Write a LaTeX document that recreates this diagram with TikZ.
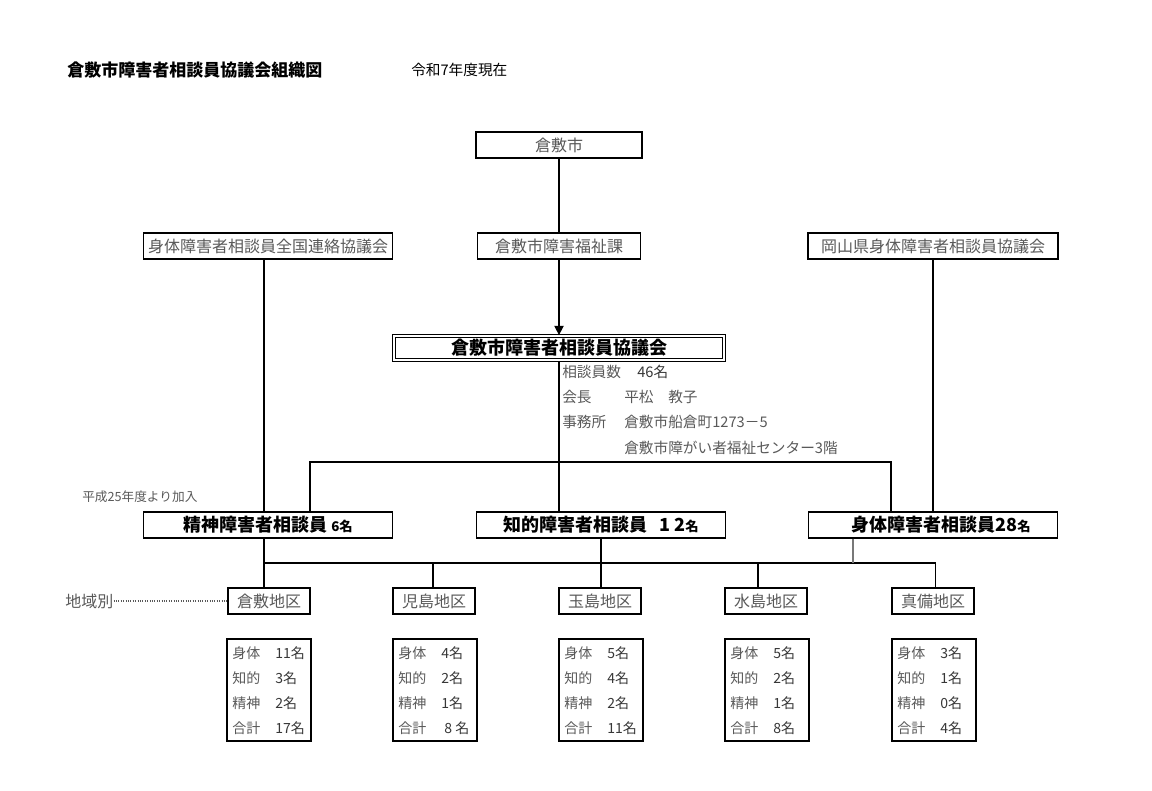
\documentclass[tikz,border=0pt]{standalone}
\usepackage{fontspec}
\setmainfont{Noto Sans CJK JP}
\usetikzlibrary{positioning, arrows.meta}
\tikzstyle{chart} = [x = 0.75pt, y = -0.75pt]
\definecolor{textGray}{RGB}{89,89,89}
\definecolor{valueGray}{RGB}{55,55,55}
\definecolor{lineGray}{RGB}{120,120,120}
\tikzstyle{orgBox} = [draw=black, line width=1.1pt, fill=white, minimum height=19.5pt, inner sep=0pt, text=textGray, font=\fontsize{12}{12}\selectfont]
\tikzstyle{rankBox} = [orgBox, minimum width=187pt, text=black, font=\fontsize{13.5}{13.5}\selectfont\bfseries]
\tikzstyle{councilBox} = [draw=black, line width=0.8pt, double, double distance=1.4pt, fill=white, minimum width=248pt, minimum height=18.5pt, inner sep=0pt, font=\fontsize{13.5}{13.5}\selectfont\bfseries]
\tikzstyle{areaBox} = [orgBox, minimum width=61.5pt]
\tikzstyle{tableBox} = [draw=black, line width=1.1pt, minimum width=63pt, minimum height=76.5pt, inner sep=0pt]
\tikzstyle{link} = [line width=1pt, color=black]
\tikzstyle{infoText} = [anchor=west, inner sep=0pt, text=textGray, font=\fontsize{11}{11}\selectfont]
\tikzstyle{tableText} = [anchor=west, inner sep=0pt, font=\fontsize{10.5}{10.5}\selectfont]
\newcommand{\areaTable}[6]{
  \node [tableBox] (#1) at (#2 + 42, 690) {};
  \foreach \lab/\val [count=\row] in {身体/#3, 知的/#4, 精神/#5, 合計/#6} {
    \node [tableText, text=textGray] (#1-lab-\row) at (#2 + 5, 628 + 25 * \row) {\lab};
    \node [tableText, text=valueGray] (#1-val-\row) at (#2 + 48, 628 + 25 * \row) {\val};
  }
}

\begin{document}
\begin{tikzpicture}[chart]
  \useasboundingbox (0,0) rectangle (1152,791);
  % heading
  \node [anchor=west, inner sep=0pt, font=\fontsize{12.75}{12.75}\selectfont\bfseries] (title) at (67,70) {倉敷市障害者相談員協議会組織図};
  \node [anchor=west, inner sep=0pt, font=\fontsize{11}{11}\selectfont] (asOf) at (411,70) {令和7年度現在};

  % top rows
  \node [orgBox, minimum width=124.5pt] (city) at (559,145) {倉敷市};
  \node [orgBox, minimum width=122pt] (welfare) at (559,246) {倉敷市障害福祉課};
  \node [orgBox, minimum width=187pt] (national) at (268,246) {身体障害者相談員全国連絡協議会};
  \node [orgBox, minimum width=187.5pt] (okayama) at (933,246) {岡山県身体障害者相談員協議会};
  \node [councilBox] (council) at (559,348) {倉敷市障害者相談員協議会};

  \draw [link] (city) -- (welfare);
  \draw [link, -{Triangle[length=7pt, width=7pt]}] (welfare) -- (council);

  % council details
  \node [infoText] (countLab) at (562,372) {相談員数};
  \node [infoText, text=valueGray] (countVal) at (637,372) {46名};
  \node [infoText] (chairLab) at (562,397) {会長};
  \node [infoText] (chairVal) at (624,397) {平松　教子};
  \node [infoText] (officeLab) at (562,422) {事務所};
  \node [infoText] (officeVal) at (624,422) {倉敷市船倉町1273－5};
  \node [infoText] (officeVal2) at (624,448) {倉敷市障がい者福祉センター3階};

  % counsellors
  \node [rankBox] (mental) at (268,525) {精神障害者相談員 {\fontsize{10}{10}\selectfont 6名}};
  \node [rankBox] (intellect) at (601,525) {知的障害者相談員\hspace{9pt}1\hspace{3pt}2{\fontsize{10}{10}\selectfont 名}};
  \node [rankBox] (physical) at (933,525) {\hspace{12pt}身体障害者相談員28{\fontsize{10}{10}\selectfont 名}};
  \node [anchor=west, inner sep=0pt, text=textGray, font=\fontsize{9.5}{9.5}\selectfont] (joined) at (82,497) {平成25年度より加入};

  \coordinate (rankBus) at (559,462);
  \draw [link] (council) -- (council.south |- intellect.north);
  \draw [link] ([xshift=31.5pt]mental.north) |- (rankBus) -| ([xshift=-31.5pt]physical.north);
  \draw [link] ([xshift=-3pt]national.south) -- ([xshift=-3pt]mental.north);
  \draw [link] (okayama) -- (physical);

  % areas
  \node [areaBox] (kurashikiArea) at (269,601) {倉敷地区};
  \node [areaBox] (kojimaArea) at (434,601) {児島地区};
  \node [areaBox] (tamashimaArea) at (600,601) {玉島地区};
  \node [areaBox] (mizushimaArea) at (766,601) {水島地区};
  \node [areaBox] (mabiArea) at (933,601) {真備地区};
  \node [anchor=west, inner sep=0pt, text=textGray, font=\fontsize{12}{12}\selectfont] (byArea) at (65,601) {地域別};
  \draw [line width=0.8pt, densely dotted, color=textGray] (byArea) -- (kurashikiArea);

  \coordinate (areaBus) at (600,563);
  \draw [link] ([xshift=-3pt]mental.south) -- ([xshift=-3pt]mental.south |- kurashikiArea.north);
  \draw [link] ([xshift=-3pt]mental.south |- areaBus) -- ([xshift=2pt]mabiArea.north |- areaBus);
  \draw [link] (intellect.south) -- (intellect.south |- tamashimaArea.north);
  \draw [link, color=lineGray] ([xshift=-60pt]physical.south) -- ([xshift=-60pt]physical.south |- areaBus);
  \draw [link] ([xshift=-0.75pt]areaBus -| kojimaArea.north) -- ([xshift=-0.75pt]kojimaArea.north);
  \draw [link] ([xshift=-6pt]areaBus -| mizushimaArea.north) -- ([xshift=-6pt]mizushimaArea.north);
  \draw [link] ([xshift=2pt]areaBus -| mabiArea.north) -- ([xshift=2pt]mabiArea.north);

  % members per area
  \areaTable{kurashikiTable}{227}{11名}{3名}{2名}{17名}
  \areaTable{kojimaTable}{393}{4名}{2名}{1名}{\ 8 名}
  \areaTable{tamashimaTable}{559}{5名}{4名}{2名}{11名}
  \areaTable{mizushimaTable}{725}{5名}{2名}{1名}{8名}
  \areaTable{mabiTable}{892}{3名}{1名}{0名}{4名}
\end{tikzpicture}
\end{document}
